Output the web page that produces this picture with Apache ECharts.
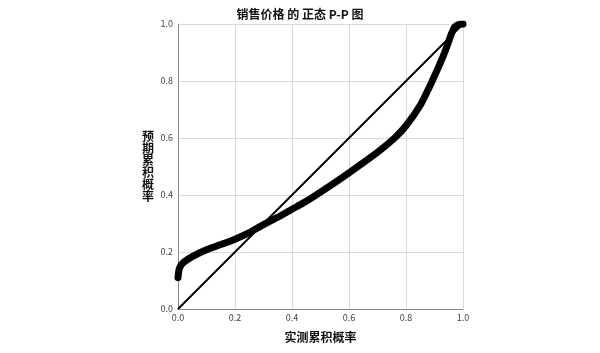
<!DOCTYPE html>
<html>
<head>
<meta charset="utf-8">
<script src="https://cdn.jsdelivr.net/npm/echarts@6/dist/echarts.min.js"></script>
<style>html,body{margin:0;padding:0;background:#fff;}#c{width:600px;height:353px;}</style>
</head>
<body>
<div id="c"></div>
<script>
const titleText = '销售价格 的 正态 P-P 图';
const xName = '实测累积概率';
const yName = '预期累积概率';
const tickValues = [0, 0.2, 0.4, 0.6, 0.8, 1.0];
const observedProb = [0, 0.004, 0.012, 0.025, 0.05, 0.1, 0.15, 0.2, 0.25, 0.3, 0.35, 0.4, 0.45, 0.5, 0.6, 0.7, 0.76, 0.8, 0.85, 0.885, 0.91, 0.93, 0.945, 0.958, 0.97, 0.985, 1.0];
const expectedProb = [0.11, 0.14, 0.156, 0.168, 0.184, 0.208, 0.226, 0.245, 0.268, 0.296, 0.322, 0.35, 0.378, 0.41, 0.478, 0.55, 0.6, 0.643, 0.715, 0.785, 0.84, 0.886, 0.925, 0.962, 0.988, 0.998, 1.0];
const refX = [0, 1];
const refY = [0, 1];

const curve = observedProb.map((x, i) => [x, expectedProb[i]]);
const ref = refX.map((x, i) => [x, refY[i]]);
const font = '"Noto Sans CJK SC", "Noto Sans", sans-serif';

const chart = echarts.init(document.getElementById('c'), null, {renderer: 'canvas'});
chart.setOption({
  animation: false,
  backgroundColor: '#fff',
  textStyle: {fontFamily: font},
  title: {
    text: titleText, left: 'center', top: 3,
    textStyle: {fontSize: 12, fontWeight: 'bold', color: '#111', fontFamily: font}
  },
  grid: {left: 178, right: 137, top: 24, bottom: 44, containLabel: false},
  xAxis: {
    type: 'value', min: 0, max: 1, interval: 0.2,
    name: xName, nameLocation: 'middle', nameGap: 22,
    nameTextStyle: {fontSize: 12, fontWeight: 'bold', color: '#111', fontFamily: font},
    axisLine: {show: true, lineStyle: {color: '#888', width: 1}},
    axisTick: {show: false},
    axisLabel: {fontSize: 9, color: '#444', margin: 4, formatter: v => v.toFixed(1)},
    splitLine: {show: true, lineStyle: {color: '#d9d9d9', width: 1}}
  },
  yAxis: {
    type: 'value', min: 0, max: 1, interval: 0.2,
    name: yName.split('').join('\n'), nameLocation: 'middle', nameGap: 24, nameRotate: 0,
    nameTextStyle: {fontSize: 12, fontWeight: 'bold', color: '#111', lineHeight: 12, fontFamily: font},
    axisLine: {show: true, lineStyle: {color: '#888', width: 1}},
    axisTick: {show: false},
    axisLabel: {fontSize: 9, color: '#444', margin: 5, formatter: v => v.toFixed(1)},
    splitLine: {show: true, lineStyle: {color: '#d9d9d9', width: 1}}
  },
  series: [
    {
      type: 'line', data: ref, showSymbol: false, symbol: 'none',
      lineStyle: {color: '#000', width: 2}, silent: true, z: 3
    },
    {
      type: 'line', data: curve, showSymbol: false, symbol: 'none', smooth: 0.2,
      lineStyle: {color: '#000', width: 7, cap: 'round', join: 'round'}, silent: true, z: 4
    }
  ]
});
</script>
</body>
</html>
